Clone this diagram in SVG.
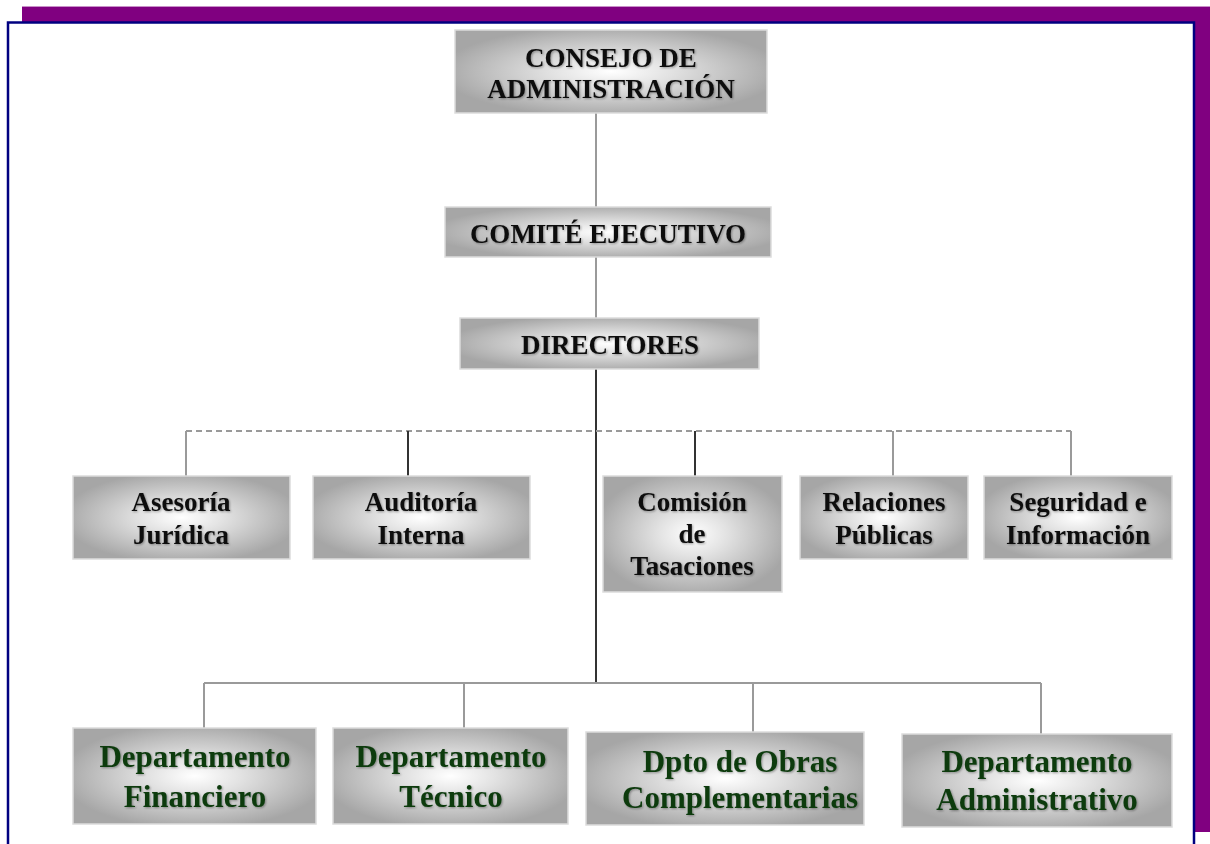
<svg xmlns="http://www.w3.org/2000/svg" width="1210" height="844" viewBox="0 0 1210 844">
<defs>
<radialGradient id="g" cx="0.5" cy="0.5" r="0.55">
<stop offset="0" stop-color="#ffffff"/>
<stop offset="0.35" stop-color="#e2e2e2"/>
<stop offset="1" stop-color="#a6a6a6"/>
</radialGradient>
<filter id="ts" x="-5%" y="-20%" width="110%" height="140%">
<feGaussianBlur in="SourceAlpha" stdDeviation="1.2"/>
<feOffset dx="1" dy="1" result="b"/>
<feComponentTransfer><feFuncA type="linear" slope="0.35"/></feComponentTransfer>
<feMerge><feMergeNode/><feMergeNode in="SourceGraphic"/></feMerge>
</filter>
</defs>
<style>
.box{fill:url(#g);stroke:#dcdcdc;stroke-width:1.5}
.t{font-family:"Liberation Serif","Times New Roman",serif;font-weight:bold;font-size:27px;fill:#111;text-anchor:middle;filter:url(#ts)}
.d{font-family:"Liberation Serif","Times New Roman",serif;font-weight:bold;font-size:31px;fill:#0c3b0e;text-anchor:middle;filter:url(#ts)}
.cg{stroke:#9a9a9a;stroke-width:2;fill:none}
.cd{stroke:#333;stroke-width:2;fill:none}
.dash{stroke:#999;stroke-width:2;stroke-dasharray:6 4;fill:none}
</style>
<rect x="0" y="0" width="1210" height="844" fill="#ffffff"/>
<rect x="22" y="6" width="1188" height="826" fill="#800080"/>
<line x1="22" y1="6.5" x2="1210" y2="6.5" stroke="#c890c8" stroke-width="1"/>
<rect x="8" y="22.5" width="1186" height="840" fill="#ffffff" stroke="#000080" stroke-width="2.5"/>

<g id="connectors">
<line class="cg" x1="596" y1="113" x2="596" y2="207"/>
<line class="cg" x1="596" y1="257" x2="596" y2="318"/>
<line class="cd" x1="596" y1="369" x2="596" y2="683"/>
<line class="dash" x1="186" y1="431" x2="1071" y2="431"/>
<line class="cg" x1="186" y1="431" x2="186" y2="476"/>
<line class="cd" x1="408" y1="431" x2="408" y2="476"/>
<line class="cd" x1="695" y1="431" x2="695" y2="476"/>
<line class="cg" x1="893" y1="431" x2="893" y2="476"/>
<line class="cg" x1="1071" y1="431" x2="1071" y2="476"/>
<line class="cg" x1="204" y1="683" x2="1041" y2="683"/>
<line class="cg" x1="204" y1="683" x2="204" y2="728"/>
<line class="cg" x1="464" y1="683" x2="464" y2="728"/>
<line class="cg" x1="753" y1="683" x2="753" y2="732"/>
<line class="cg" x1="1041" y1="683" x2="1041" y2="734"/>
</g>

<g id="consejo">
<rect class="box" x="455" y="30" width="312" height="83"/>
<text class="t" x="611" y="67">CONSEJO DE</text>
<text class="t" x="611" y="98">ADMINISTRACIÓN</text>
</g>
<g id="comite">
<rect class="box" x="445" y="207" width="326" height="50"/>
<text class="t" x="608" y="243">COMITÉ EJECUTIVO</text>
</g>
<g id="directores">
<rect class="box" x="460" y="318" width="299" height="51"/>
<text class="t" x="610" y="354">DIRECTORES</text>
</g>

<g id="asesoria">
<rect class="box" x="73" y="476" width="217" height="83"/>
<text class="t" x="181" y="511">Asesoría</text>
<text class="t" x="181" y="544">Jurídica</text>
</g>
<g id="auditoria">
<rect class="box" x="313" y="476" width="217" height="83"/>
<text class="t" x="421" y="511">Auditoría</text>
<text class="t" x="421" y="544">Interna</text>
</g>
<g id="comision">
<rect class="box" x="603" y="476" width="179" height="116"/>
<text class="t" x="692" y="511">Comisión</text>
<text class="t" x="692" y="543">de</text>
<text class="t" x="692" y="575">Tasaciones</text>
</g>
<g id="relaciones">
<rect class="box" x="800" y="476" width="168" height="83"/>
<text class="t" x="884" y="511">Relaciones</text>
<text class="t" x="884" y="544">Públicas</text>
</g>
<g id="seguridad">
<rect class="box" x="984" y="476" width="188" height="83"/>
<text class="t" x="1078" y="511">Seguridad e</text>
<text class="t" x="1078" y="544">Información</text>
</g>

<g id="financiero">
<rect class="box" x="73" y="728" width="243" height="96"/>
<text class="d" x="195" y="767">Departamento</text>
<text class="d" x="195" y="807">Financiero</text>
</g>
<g id="tecnico">
<rect class="box" x="333" y="728" width="235" height="96"/>
<text class="d" x="451" y="767">Departamento</text>
<text class="d" x="451" y="807">Técnico</text>
</g>
<g id="obras">
<rect class="box" x="586" y="732" width="278" height="93"/>
<text class="d" x="740" y="772">Dpto de Obras</text>
<text class="d" x="740" y="808">Complementarias</text>
</g>
<g id="administrativo">
<rect class="box" x="902" y="734" width="270" height="93"/>
<text class="d" x="1037" y="772">Departamento</text>
<text class="d" x="1037" y="810">Administrativo</text>
</g>
</svg>
